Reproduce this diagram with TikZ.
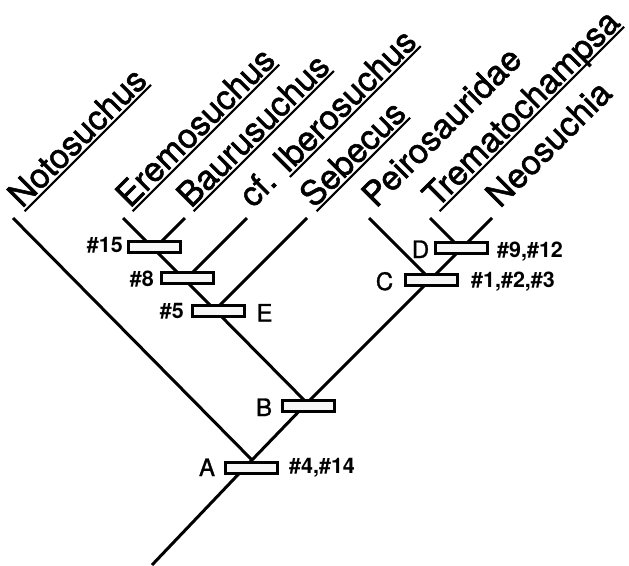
\documentclass[tikz,border=0pt]{standalone}
\usepackage{fontspec}
\setmainfont{TeX Gyre Heros}
\newfontface\medface[FakeBold=1.6]{TeX Gyre Heros}
\newfontface\letface[FakeBold=1.2]{TeX Gyre Heros}
\newcommand\myul[1]{\setbox0\hbox{#1}\rlap{\rule[-4.5pt]{\wd0}{2.2pt}}\box0}
\begin{document}
\begin{tikzpicture}[x=1pt,y=-1pt,
  branch/.style={line width=3pt},
  bar/.style={draw, line width=3pt, fill=gray!6, minimum width=52pt, minimum height=11pt, inner sep=0pt},
  taxon/.style={rotate=45, anchor=base west, inner sep=0pt, font=\fontsize{34}{40}\medface},
  clade/.style={anchor=base, inner sep=0pt, font=\fontsize{24}{28}\letface},
  charl/.style={anchor=base east, inner sep=0pt, font=\fontsize{21.5}{25}\selectfont\bfseries},
  charr/.style={anchor=base west, inner sep=0pt, font=\fontsize{21.5}{25}\selectfont\bfseries}]
\useasboundingbox (0,0) rectangle (629,565);
% tips
\coordinate (tN) at (13,218);
\coordinate (tEr) at (123,218);
\coordinate (tBa) at (185,218);
\coordinate (tIb) at (247,218);
\coordinate (tSe) at (307,218);
\coordinate (tPe) at (369,218);
\coordinate (tTr) at (430,218);
\coordinate (tNe) at (492,218);
% internal nodes
\coordinate (n15) at (154,249);
\coordinate (n8) at (185,280);
\coordinate (n5) at (215,310);
\coordinate (nD) at (461,249);
\coordinate (nC) at (430.5,279.5);
\coordinate (nB) at (307,403);
\coordinate (nA) at (252,460);
\coordinate (root) at (152,565);
% branches
\draw[branch] (tEr) -- (n15) -- (n8) -- (n5) -- (nB);
\draw[branch] (tBa) -- (n15);
\draw[branch] (tIb) -- (n8);
\draw[branch] (tSe) -- (n5);
\draw[branch] (tPe) -- (nC) -- (nB) -- (nA) -- (root);
\draw[branch] (tTr) -- (nD);
\draw[branch] (tNe) -- (nD) -- (nC);
\draw[branch] (tN) -- (nA);
% taxon labels
\node[taxon] (lN) at ([shift={(9,-9)}]tN) {\myul{Notosuchus}};
\node[taxon] (lEr) at ([shift={(7,-9)}]tEr) {\myul{Eremosuchus}};
\node[taxon] (lBa) at ([shift={(6,-9)}]tBa) {\myul{Baurusuchus}};
\node[taxon] (lIb) at ([shift={(6,-9)}]tIb) {cf. \myul{Iberosuchus}};
\node[taxon] (lSe) at ([shift={(7,-9)}]tSe) {\myul{Sebecus}};
\node[taxon] (lPe) at ([shift={(7,-9)}]tPe) {Peirosauridae};
\node[taxon] (lTr) at ([shift={(7,-9)}]tTr) {\myul{Trematochampsa}};
\node[taxon] (lNe) at ([shift={(8,-9)}]tNe) {Neosuchia};
% character bars
\node[bar] (b15) at (154.5,246.5) {};
\node[bar] (b8) at (187,277.5) {};
\node[bar] (b5) at (218,311) {};
\node[bar] (bD) at (461.5,247.5) {};
\node[bar] (bC) at (431.5,280) {};
\node[bar] (bB) at (308,405.5) {};
\node[bar] (bA) at (251.5,468) {};
% character numbers
\node[charl] (c15) at (123,252) {\#15};
\node[charl] (c8) at (154,286) {\#8};
\node[charl] (c5) at (184,318) {\#5};
\node[charr] (c912) at (497,257) {\#9,\#12};
\node[charr] (c123) at (471,287) {\#1,\#2,\#3};
\node[charr] (c414) at (289,473) {\#4,\#14};
% clade letters
\node[clade] (lE) at (264.5,321.5) {E};
\node[clade] (lB) at (264,416) {B};
\node[clade] (lA) at (207,476) {A};
\node[clade] (lD) at (420.5,258) {D};
\node[clade] (lC) at (384.5,290) {C};
\end{tikzpicture}
\end{document}
